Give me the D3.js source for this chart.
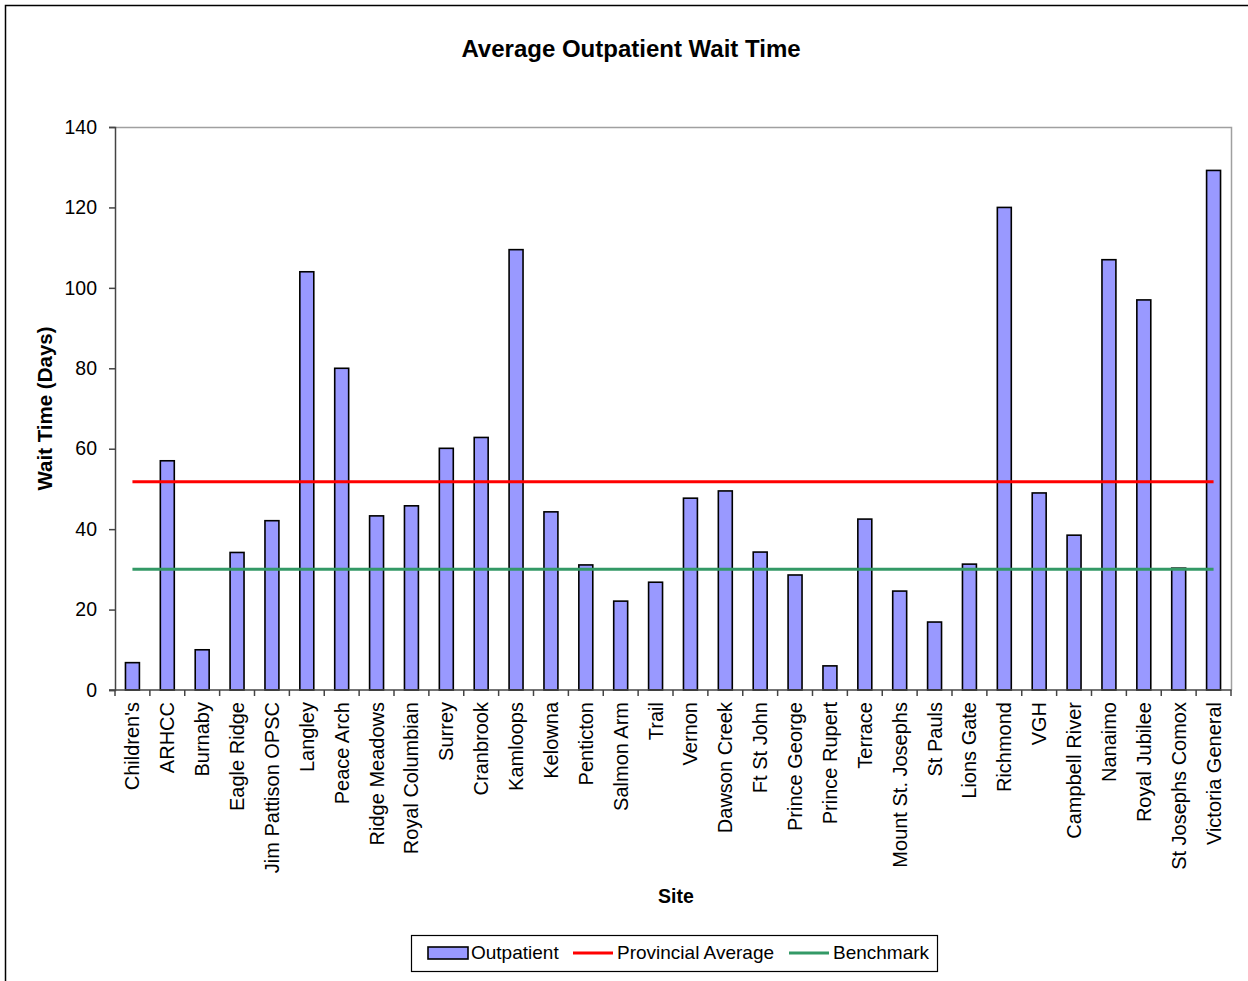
<!DOCTYPE html>
<html>
<head>
<meta charset="utf-8">
<script src="https://cdn.jsdelivr.net/npm/d3@7"></script>
<style>
  body { margin: 0; background: #fff; }
  text { font-family: "Liberation Sans", Arial, sans-serif; fill: #000; }
</style>
</head>
<body>
<div id="chart"></div>
<script>
// Sites along the x axis
var sites = ["Children's", "ARHCC", "Burnaby", "Eagle Ridge", "Jim Pattison OPSC", "Langley",
  "Peace Arch", "Ridge Meadows", "Royal Columbian", "Surrey", "Cranbrook", "Kamloops",
  "Kelowna", "Penticton", "Salmon Arm", "Trail", "Vernon", "Dawson Creek", "Ft St John",
  "Prince George", "Prince Rupert", "Terrace", "Mount St. Josephs", "St Pauls", "Lions Gate",
  "Richmond", "VGH", "Campbell River", "Nanaimo", "Royal Jubilee", "St Josephs Comox",
  "Victoria General"];

// Outpatient wait times (days)
var outpatient = [6.8, 57, 10, 34.2, 42.1, 104, 80, 43.3, 45.8, 60.1, 62.8, 109.5,
  44.3, 31.1, 22.1, 26.8, 47.7, 49.5, 34.3, 28.6, 6, 42.5, 24.6, 16.9, 31.3,
  120, 49, 38.5, 107, 97, 30.3, 129.2];

var provincialAverage = 51.8;
var benchmark = 30;
var yTicks = [0, 20, 40, 60, 80, 100, 120, 140];

var W = 1248, H = 981;
var plot = {left: 115, top: 127, right: 1231, bottom: 690};

var svg = d3.select("#chart").append("svg")
    .attr("width", W)
    .attr("height", H);

// outer chart frame (right/bottom fall outside the picture)
svg.append("path")
    .attr("d", "M5.5," + H + "V5.5H" + W)
    .attr("fill", "none")
    .attr("stroke", "#000")
    .attr("stroke-width", 1.5);

var x = d3.scaleBand()
    .domain(sites)
    .range([plot.left, plot.right])
    .paddingInner(0);

var y = d3.scaleLinear()
    .domain([0, 140])
    .range([plot.bottom, plot.top]);

var barW = x.bandwidth() / 2.5;

// plot area border (top and right in light grey)
svg.append("path")
    .attr("d", "M" + plot.left + "," + (plot.top + 0.5) + "H" + (plot.right + 0.5) + "V" + plot.bottom)
    .attr("fill", "none")
    .attr("stroke", "#a0a0a0")
    .attr("stroke-width", 1.5);

// bars
svg.selectAll("rect.bar")
    .data(outpatient)
  .enter().append("rect")
    .attr("class", "bar")
    .attr("x", function(d, i) { return x(sites[i]) + (x.bandwidth() - barW) / 2; })
    .attr("width", barW)
    .attr("y", function(d) { return y(d); })
    .attr("height", function(d) { return y(0) - y(d); })
    .attr("fill", "#9999ff")
    .attr("stroke", "#000")
    .attr("stroke-width", 1.6);

// reference lines from first to last category centre
var x0 = x(sites[0]) + x.bandwidth() / 2;
var x1 = x(sites[sites.length - 1]) + x.bandwidth() / 2;

var refLines = [
  {value: provincialAverage, color: "#ff0000"},
  {value: benchmark, color: "#339966"}
];

svg.selectAll("line.ref")
    .data(refLines)
  .enter().append("line")
    .attr("class", "ref")
    .attr("x1", x0)
    .attr("x2", x1)
    .attr("y1", function(d) { return y(d.value); })
    .attr("y2", function(d) { return y(d.value); })
    .attr("stroke", function(d) { return d.color; })
    .attr("stroke-width", 3);

// y axis
var yAxis = svg.append("g")
    .attr("transform", "translate(" + plot.left + ",0)")
    .call(d3.axisLeft(y).tickValues(yTicks).tickSize(6).tickPadding(12));
yAxis.selectAll("text").style("font-size", "19.5px").attr("fill", "#000");
yAxis.selectAll("line, path").attr("stroke", "#444").attr("stroke-width", 1.5);

// x axis: ticks on band boundaries
var xAxis = svg.append("g")
    .attr("transform", "translate(0," + plot.bottom + ")");
xAxis.append("line")
    .attr("x1", plot.left - 6)
    .attr("x2", plot.right + 0.5)
    .attr("stroke", "#444")
    .attr("stroke-width", 1.5);
xAxis.selectAll("line.tick")
    .data(sites.concat(["end"]))
  .enter().append("line")
    .attr("class", "tick")
    .attr("x1", function(d, i) { return plot.left + i * x.step(); })
    .attr("x2", function(d, i) { return plot.left + i * x.step(); })
    .attr("y1", 0)
    .attr("y2", 6)
    .attr("stroke", "#444")
    .attr("stroke-width", 1.5);

xAxis.selectAll("text.site")
    .data(sites)
  .enter().append("text")
    .attr("class", "site")
    .attr("transform", function(d) {
      return "translate(" + (x(d) + x.bandwidth() / 2) + ",12) rotate(-90)";
    })
    .attr("dy", "0.35em")
    .attr("text-anchor", "end")
    .style("font-size", "20px")
    .text(function(d) { return d; });

// titles
svg.append("text")
    .attr("x", 631)
    .attr("y", 57)
    .attr("text-anchor", "middle")
    .style("font-size", "24px")
    .style("font-weight", "bold")
    .text("Average Outpatient Wait Time");

svg.append("text")
    .attr("transform", "translate(52," + ((plot.top + plot.bottom) / 2) + ") rotate(-90)")
    .attr("text-anchor", "middle")
    .style("font-size", "20.5px")
    .style("font-weight", "bold")
    .text("Wait Time (Days)");

svg.append("text")
    .attr("x", 676)
    .attr("y", 903)
    .attr("text-anchor", "middle")
    .style("font-size", "19.5px")
    .style("font-weight", "bold")
    .text("Site");

// legend
var legend = svg.append("g").attr("transform", "translate(411,935)");
legend.append("rect")
    .attr("x", 0.5).attr("y", 0.5)
    .attr("width", 526).attr("height", 36)
    .attr("fill", "#fff")
    .attr("stroke", "#000")
    .attr("stroke-width", 1.2);

legend.append("rect")
    .attr("x", 17).attr("y", 12)
    .attr("width", 40).attr("height", 12)
    .attr("fill", "#9999ff")
    .attr("stroke", "#000")
    .attr("stroke-width", 1.6);
legend.append("text")
    .attr("x", 60).attr("y", 24)
    .style("font-size", "19px")
    .text("Outpatient");

var legendLines = [
  {label: "Provincial Average", color: "#ff0000", x: 162},
  {label: "Benchmark", color: "#339966", x: 378}
];
legendLines.forEach(function(l) {
  legend.append("line")
      .attr("x1", l.x).attr("x2", l.x + 40)
      .attr("y1", 18).attr("y2", 18)
      .attr("stroke", l.color)
      .attr("stroke-width", 3);
  legend.append("text")
      .attr("x", l.x + 44).attr("y", 24)
      .style("font-size", "19px")
      .text(l.label);
});
</script>
</body>
</html>
